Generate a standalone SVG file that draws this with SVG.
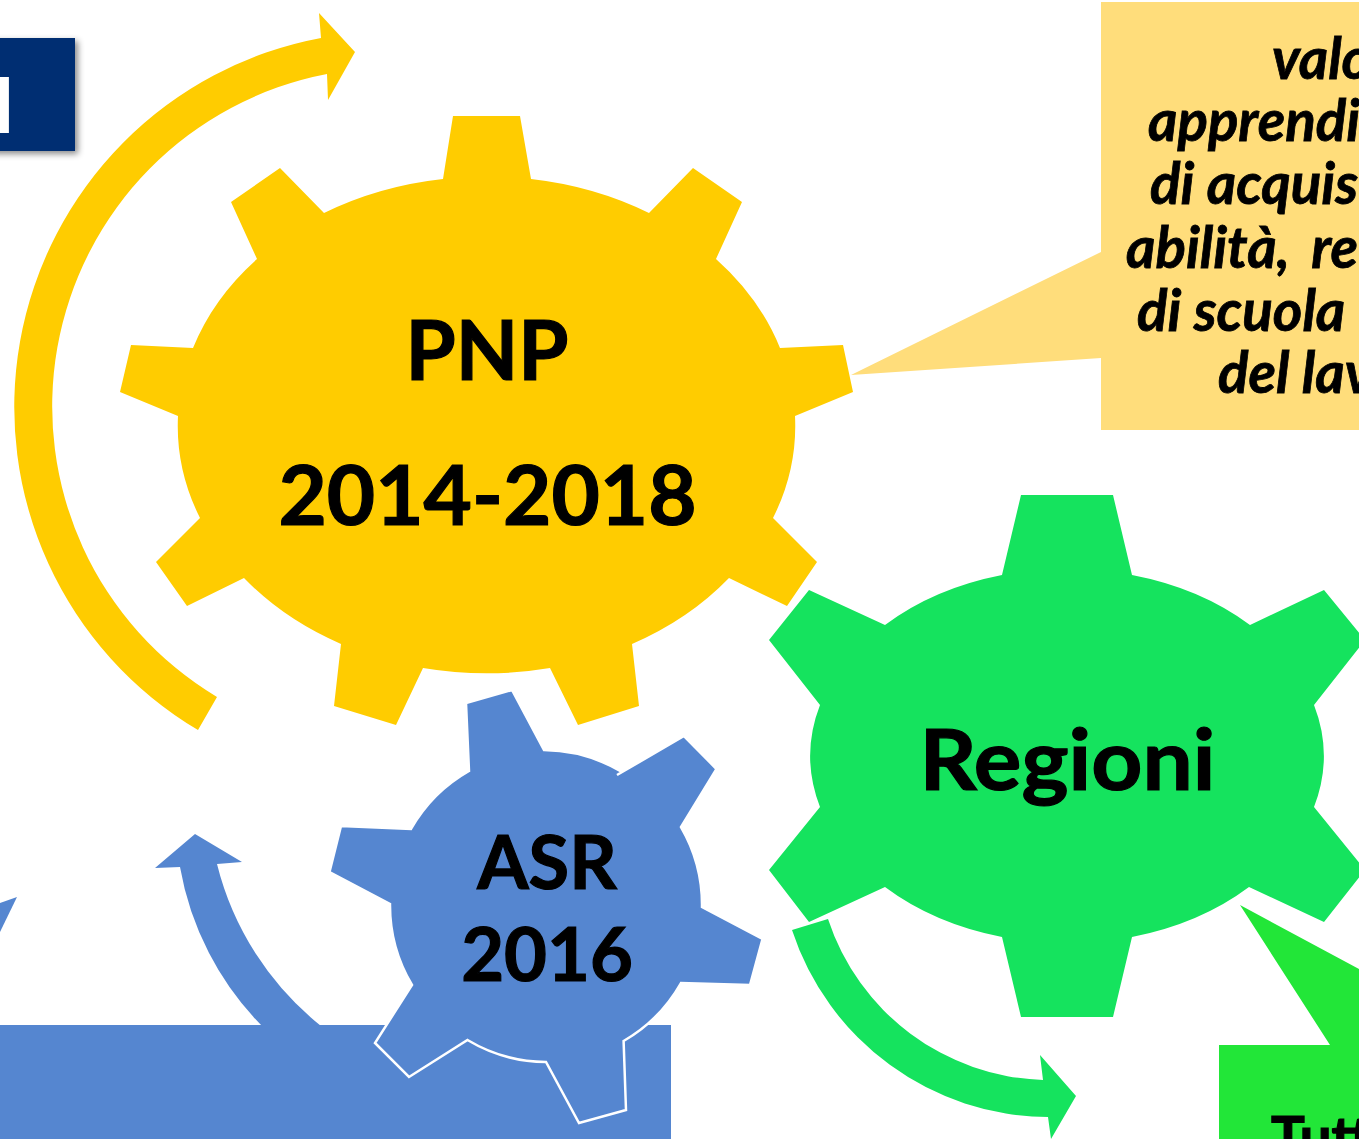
<svg xmlns="http://www.w3.org/2000/svg" width="1359" height="1139" viewBox="0 0 1359 1139">
<defs>
<style>
text{font-family:"Lato","Carlito","Liberation Sans",sans-serif;font-weight:700;fill:#000;stroke:#000;stroke-width:1.2px}
.m{text-anchor:middle}
.c{font-style:italic;font-size:56.5px;stroke-width:.8px}
.y{fill:#FFCC00}.g{fill:#15E35E}.b{fill:#5586D0}
</style>
<filter id="sh" x="-20%" y="-20%" width="140%" height="140%"><feDropShadow dx="3" dy="3" stdDeviation="3" flood-color="#000" flood-opacity="0.45"/></filter>
</defs>
<rect width="1359" height="1139" fill="#fff"/>
<g id="connectors">
<path id="arrow-yellow" class="y" d="M198,730A375.5,375.5 0 0 1 321,38L319,13L355,52L328,100L327,74A338.5,338.5 0 0 0 217,697Z"/>
<path id="arrow-green" class="g" d="M792,930A271,271 0 0 0 1048,1117L1051,1139L1076,1096L1040,1055L1043,1080A234,234 0 0 1 828,919Z"/>
<path id="arrow-blue" class="b" d="M262,1026A300,300 0 0 1 180,867L155,868L195,834L242,862L217,864A300,300 0 0 0 321,1026Z"/>
<polygon id="arrow-blue-left" class="b" points="0,903 17,897 0,932"/>
</g>
<g id="title-box">
<rect x="-20" y="38" width="95" height="113" fill="#002F72" filter="url(#sh)"/>
<text x="15" y="133" text-anchor="end" font-size="76" style="fill:#fff;stroke:none">I</text>
</g>
<g id="callout-yellow">
<path fill="#FFDD7B" d="M1101,2H1359V430H1101V358L851,375L1101,252Z"/>
<text class="c" x="1272" y="79">valo</text>
<text class="c" x="1148" y="141">apprendi</text>
<text class="c" x="1150" y="204">di acquis</text>
<text class="c" x="1126" y="268" word-spacing="9">abilità, re</text>
<text class="c" x="1137" y="331">di scuola</text>
<text class="c" x="1218" y="393">del lav</text>
</g>
<g id="callout-green">
<path fill="#22E638" d="M1219,1045H1330L1240,905L1359,969V1139H1219Z"/>
<text x="1271" y="1158" font-size="56.5">Tutt</text>
</g>
<g id="callout-blue"><rect x="0" y="1025" width="671" height="114" class="b"/></g>
<g id="gear-pnp">
<path class="y" d="M453,116H520L531,179A308,247 0 0 1 649,213L693,168L742,202L716,259A308,247 0 0 1 780,348L843,345L853,392L795,416A308,247 0 0 1 773,518L817,562L787,606L729,578A308,247 0 0 1 632,644L639,706L578,725L550,668A308,247 0 0 1 423,668L396,725L334,706L341,644A308,247 0 0 1 244,578L187,606L156,562L200,518A308,247 0 0 1 178,416L120,392L131,345L193,348A308,247 0 0 1 257,259L231,202L280,168L324,213A308,247 0 0 1 443,179Z"/>
<text class="m" x="487" y="380" font-size="82" textLength="163" lengthAdjust="spacingAndGlyphs">PNP</text>
<text class="m" x="487.5" y="525" font-size="82" textLength="418" lengthAdjust="spacingAndGlyphs">2014-2018</text>
</g>
<g id="gear-regioni">
<path class="g" d="M1021,495H1113L1132,575A256,187 0 0 1 1250,625L1324,590L1365,640L1314,705A256,187 0 0 1 1314,807L1365,870L1324,922L1249,887A256,187 0 0 1 1132,937L1113,1017H1021L1002,937A256,187 0 0 1 885,887L809,922L769,870L820,807A256,187 0 0 1 820,705L769,640L809,590L885,625A256,187 0 0 1 1002,575Z"/>
<text class="m" x="1067.5" y="790" font-size="84" textLength="296" lengthAdjust="spacingAndGlyphs">Regioni</text>
</g>
<g id="gear-asr">
<path class="b" stroke="#fff" stroke-width="2.5" d="M466,703L512,690L544,750A155,155 0 0 1 622,772L617,775L684,736L716.5,769L681,827A155,155 0 0 1 702,907L762.5,939L750,985L681,983A155,155 0 0 1 623.6,1041L626,1110L579,1123L546,1062A155,155 0 0 1 467.5,1040L409,1077L375,1043L412,985A155,155 0 0 1 390,904L329.5,872L341,826L411,829A155,155 0 0 1 469,771Z"/>
<text class="m" x="547" y="889" font-size="74">ASR</text>
<text class="m" x="547" y="981" font-size="74">2016</text>
</g>
</svg>
